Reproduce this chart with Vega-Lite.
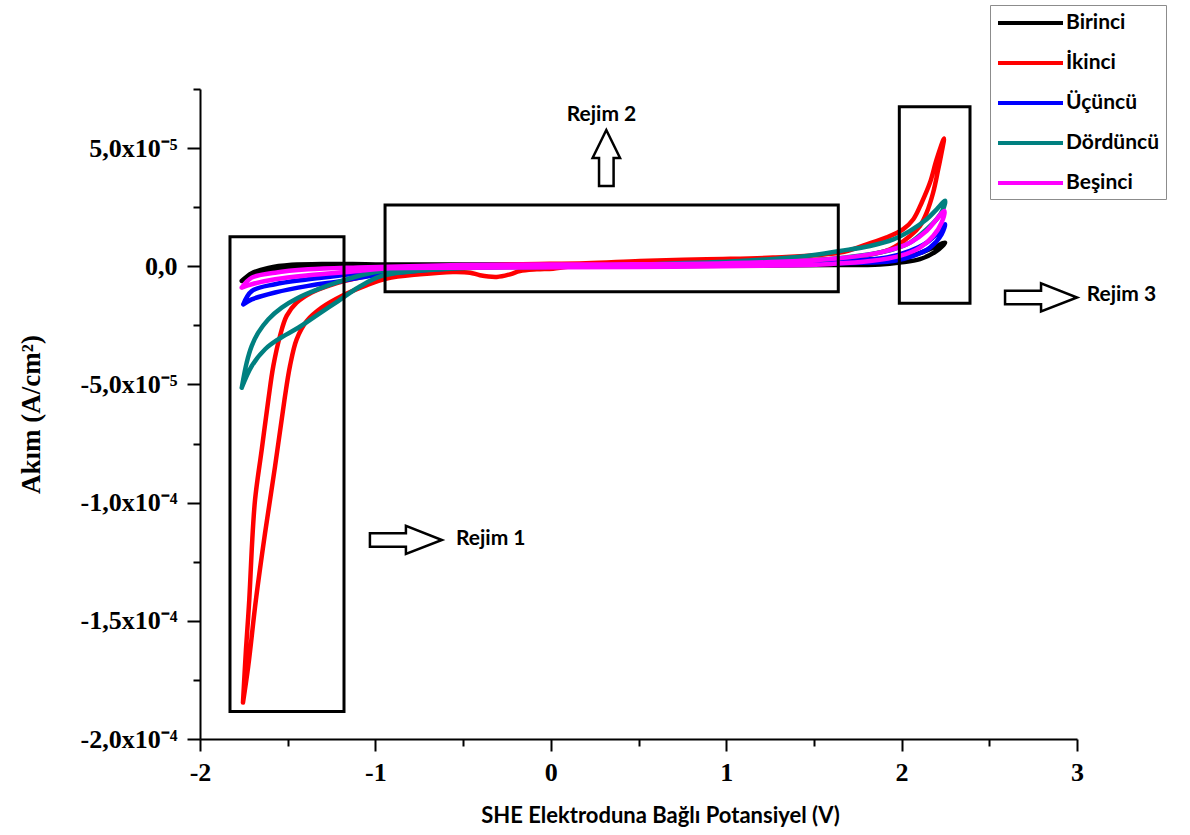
{
  "$schema": "https://vega.github.io/schema/vega-lite/v6.json",
  "width": 877,
  "height": 650,
  "autosize": "none",
  "padding": {"left": 200, "top": 89, "right": 113, "bottom": 96},
  "background": "white",
  "config": {"view": {"stroke": null}},
  "datasets": {
    "curves": [
      {"s":"Birinci","i":1,"x":-1.762,"y":-6.2e-6},
      {"s":"Birinci","i":2,"x":-1.705,"y":-4.1e-6},
      {"s":"Birinci","i":3,"x":-1.61,"y":-2.0e-6},
      {"s":"Birinci","i":4,"x":-1.477,"y":-5e-7},
      {"s":"Birinci","i":5,"x":-1.287,"y":1e-7},
      {"s":"Birinci","i":6,"x":-1.0,"y":0},
      {"s":"Birinci","i":7,"x":0,"y":0},
      {"s":"Birinci","i":8,"x":1.0,"y":2e-7},
      {"s":"Birinci","i":9,"x":1.6,"y":5e-7},
      {"s":"Birinci","i":10,"x":1.877,"y":8e-7},
      {"s":"Birinci","i":11,"x":1.99,"y":1.6e-6},
      {"s":"Birinci","i":12,"x":2.105,"y":3.0e-6},
      {"s":"Birinci","i":13,"x":2.2,"y":6.5e-6},
      {"s":"Birinci","i":14,"x":2.248,"y":1.0e-5},
      {"s":"Birinci","i":15,"x":2.18,"y":7.9e-6},
      {"s":"Birinci","i":16,"x":2.086,"y":5.1e-6},
      {"s":"Birinci","i":17,"x":1.953,"y":3.0e-6},
      {"s":"Birinci","i":18,"x":1.763,"y":1.6e-6},
      {"s":"Birinci","i":19,"x":1.4,"y":1.0e-6},
      {"s":"Birinci","i":20,"x":0.5,"y":5e-7},
      {"s":"Birinci","i":21,"x":-0.5,"y":8e-7},
      {"s":"Birinci","i":22,"x":-1.0,"y":8e-7},
      {"s":"Birinci","i":23,"x":-1.287,"y":1.0e-6},
      {"s":"Birinci","i":24,"x":-1.477,"y":6e-7},
      {"s":"Birinci","i":25,"x":-1.61,"y":-7e-7},
      {"s":"Birinci","i":26,"x":-1.705,"y":-2.9e-6},
      {"s":"Birinci","i":27,"x":-1.762,"y":-6.2e-6},

      {"s":"İkinci","i":1,"x":-1.755,"y":-1.846e-4},
      {"s":"İkinci","i":2,"x":-1.738,"y":-1.622e-4},
      {"s":"İkinci","i":3,"x":-1.719,"y":-1.41e-4},
      {"s":"İkinci","i":4,"x":-1.705,"y":-1.198e-4},
      {"s":"İkinci","i":5,"x":-1.686,"y":-9.87e-5},
      {"s":"İkinci","i":6,"x":-1.648,"y":-7.75e-5},
      {"s":"İkinci","i":7,"x":-1.61,"y":-5.63e-5},
      {"s":"İkinci","i":8,"x":-1.582,"y":-4.22e-5},
      {"s":"İkinci","i":9,"x":-1.544,"y":-2.95e-5},
      {"s":"İkinci","i":10,"x":-1.506,"y":-2.1e-5},
      {"s":"İkinci","i":11,"x":-1.449,"y":-1.54e-5},
      {"s":"İkinci","i":12,"x":-1.363,"y":-1.11e-5},
      {"s":"İkinci","i":13,"x":-1.268,"y":-8.3e-6},
      {"s":"İkinci","i":14,"x":-1.173,"y":-6.2e-6},
      {"s":"İkinci","i":15,"x":-1.0,"y":-3.5e-6},
      {"s":"İkinci","i":16,"x":-0.8,"y":-1.5e-6},
      {"s":"İkinci","i":17,"x":-0.5,"y":0},
      {"s":"İkinci","i":18,"x":-0.2,"y":8e-7},
      {"s":"İkinci","i":19,"x":0.2,"y":1.3e-6},
      {"s":"İkinci","i":20,"x":0.508,"y":2.2e-6},
      {"s":"İkinci","i":21,"x":0.889,"y":3.0e-6},
      {"s":"İkinci","i":22,"x":1.267,"y":3.7e-6},
      {"s":"İkinci","i":23,"x":1.649,"y":5.8e-6},
      {"s":"İkinci","i":24,"x":1.801,"y":9.3e-6},
      {"s":"İkinci","i":25,"x":1.915,"y":1.22e-5},
      {"s":"İkinci","i":26,"x":2.01,"y":1.57e-5},
      {"s":"İkinci","i":27,"x":2.067,"y":1.99e-5},
      {"s":"İkinci","i":28,"x":2.115,"y":2.7e-5},
      {"s":"İkinci","i":29,"x":2.162,"y":3.54e-5},
      {"s":"İkinci","i":30,"x":2.2,"y":4.53e-5},
      {"s":"İkinci","i":31,"x":2.242,"y":5.41e-5},
      {"s":"İkinci","i":32,"x":2.228,"y":4.81e-5},
      {"s":"İkinci","i":33,"x":2.209,"y":4.11e-5},
      {"s":"İkinci","i":34,"x":2.18,"y":3.12e-5},
      {"s":"İkinci","i":35,"x":2.143,"y":2.27e-5},
      {"s":"İkinci","i":36,"x":2.105,"y":1.71e-5},
      {"s":"İkinci","i":37,"x":2.048,"y":1.28e-5},
      {"s":"İkinci","i":38,"x":1.934,"y":7.2e-6},
      {"s":"İkinci","i":39,"x":1.75,"y":4.0e-6},
      {"s":"İkinci","i":40,"x":1.4,"y":2.2e-6},
      {"s":"İkinci","i":41,"x":1.0,"y":1.2e-6},
      {"s":"İkinci","i":42,"x":0.5,"y":4e-7},
      {"s":"İkinci","i":43,"x":0.11,"y":-1e-7},
      {"s":"İkinci","i":44,"x":0.013,"y":-1.0e-6},
      {"s":"İkinci","i":45,"x":-0.08,"y":-1.3e-6},
      {"s":"İkinci","i":46,"x":-0.176,"y":-2.0e-6},
      {"s":"İkinci","i":47,"x":-0.233,"y":-3.4e-6},
      {"s":"İkinci","i":48,"x":-0.308,"y":-4.5e-6},
      {"s":"İkinci","i":49,"x":-0.404,"y":-3.8e-6},
      {"s":"İkinci","i":50,"x":-0.46,"y":-2.7e-6},
      {"s":"İkinci","i":51,"x":-0.558,"y":-2.4e-6},
      {"s":"İkinci","i":52,"x":-0.746,"y":-3.4e-6},
      {"s":"İkinci","i":53,"x":-0.936,"y":-5.2e-6},
      {"s":"İkinci","i":54,"x":-1.059,"y":-8.3e-6},
      {"s":"İkinci","i":55,"x":-1.192,"y":-1.26e-5},
      {"s":"İkinci","i":56,"x":-1.306,"y":-1.75e-5},
      {"s":"İkinci","i":57,"x":-1.392,"y":-2.32e-5},
      {"s":"İkinci","i":58,"x":-1.449,"y":-3.09e-5},
      {"s":"İkinci","i":59,"x":-1.487,"y":-4.22e-5},
      {"s":"İkinci","i":60,"x":-1.518,"y":-5.63e-5},
      {"s":"İkinci","i":61,"x":-1.572,"y":-8.46e-5},
      {"s":"İkinci","i":62,"x":-1.629,"y":-1.128e-4},
      {"s":"İkinci","i":63,"x":-1.681,"y":-1.41e-4},
      {"s":"İkinci","i":64,"x":-1.725,"y":-1.692e-4},
      {"s":"İkinci","i":65,"x":-1.755,"y":-1.846e-4},

      {"s":"Üçüncü","i":1,"x":-1.753,"y":-1.61e-5},
      {"s":"Üçüncü","i":2,"x":-1.705,"y":-1.05e-5},
      {"s":"Üçüncü","i":3,"x":-1.572,"y":-7.6e-6},
      {"s":"Üçüncü","i":4,"x":-1.383,"y":-5.5e-6},
      {"s":"Üçüncü","i":5,"x":-1.192,"y":-3.8e-6},
      {"s":"Üçüncü","i":6,"x":-0.964,"y":-2.0e-6},
      {"s":"Üçüncü","i":7,"x":-0.6,"y":-5e-7},
      {"s":"Üçüncü","i":8,"x":0,"y":0},
      {"s":"Üçüncü","i":9,"x":1.0,"y":5e-7},
      {"s":"Üçüncü","i":10,"x":1.6,"y":1.3e-6},
      {"s":"Üçüncü","i":11,"x":1.953,"y":2.2e-6},
      {"s":"Üçüncü","i":12,"x":2.067,"y":4.4e-6},
      {"s":"Üçüncü","i":13,"x":2.162,"y":7.9e-6},
      {"s":"Üçüncü","i":14,"x":2.228,"y":1.35e-5},
      {"s":"Üçüncü","i":15,"x":2.248,"y":1.78e-5},
      {"s":"Üçüncü","i":16,"x":2.209,"y":1.43e-5},
      {"s":"Üçüncü","i":17,"x":2.143,"y":1.0e-5},
      {"s":"Üçüncü","i":18,"x":2.048,"y":6.5e-6},
      {"s":"Üçüncü","i":19,"x":1.915,"y":3.7e-6},
      {"s":"Üçüncü","i":20,"x":1.6,"y":2.0e-6},
      {"s":"Üçüncü","i":21,"x":1.0,"y":8e-7},
      {"s":"Üçüncü","i":22,"x":0,"y":2e-7},
      {"s":"Üçüncü","i":23,"x":-0.6,"y":-1.0e-6},
      {"s":"Üçüncü","i":24,"x":-0.964,"y":-3.4e-6},
      {"s":"Üçüncü","i":25,"x":-1.192,"y":-6.2e-6},
      {"s":"Üçüncü","i":26,"x":-1.383,"y":-8.3e-6},
      {"s":"Üçüncü","i":27,"x":-1.572,"y":-1.11e-5},
      {"s":"Üçüncü","i":28,"x":-1.705,"y":-1.4e-5},
      {"s":"Üçüncü","i":29,"x":-1.753,"y":-1.61e-5},

      {"s":"Dördüncü","i":1,"x":-1.762,"y":-5.14e-5},
      {"s":"Dördüncü","i":2,"x":-1.734,"y":-4.08e-5},
      {"s":"Dördüncü","i":3,"x":-1.705,"y":-3.37e-5},
      {"s":"Dördüncü","i":4,"x":-1.668,"y":-2.81e-5},
      {"s":"Dördüncü","i":5,"x":-1.61,"y":-2.24e-5},
      {"s":"Dördüncü","i":6,"x":-1.534,"y":-1.75e-5},
      {"s":"Dördüncü","i":7,"x":-1.44,"y":-1.33e-5},
      {"s":"Dördüncü","i":8,"x":-1.326,"y":-9.7e-6},
      {"s":"Dördüncü","i":9,"x":-1.192,"y":-6.2e-6},
      {"s":"Dördüncü","i":10,"x":-1.059,"y":-3.4e-6},
      {"s":"Dördüncü","i":11,"x":-0.964,"y":-2.0e-6},
      {"s":"Dördüncü","i":12,"x":-0.7,"y":-5e-7},
      {"s":"Dördüncü","i":13,"x":0,"y":0},
      {"s":"Dördüncü","i":14,"x":0.508,"y":8e-7},
      {"s":"Dördüncü","i":15,"x":1.079,"y":2.2e-6},
      {"s":"Dördüncü","i":16,"x":1.459,"y":4.4e-6},
      {"s":"Dördüncü","i":17,"x":1.649,"y":6.5e-6},
      {"s":"Dördüncü","i":18,"x":1.82,"y":8.6e-6},
      {"s":"Dördüncü","i":19,"x":1.953,"y":1.14e-5},
      {"s":"Dördüncü","i":20,"x":2.048,"y":1.5e-5},
      {"s":"Dördüncü","i":21,"x":2.143,"y":1.99e-5},
      {"s":"Dördüncü","i":22,"x":2.2,"y":2.41e-5},
      {"s":"Dördüncü","i":23,"x":2.248,"y":2.77e-5},
      {"s":"Dördüncü","i":24,"x":2.236,"y":2.41e-5},
      {"s":"Dördüncü","i":25,"x":2.2,"y":1.99e-5},
      {"s":"Dördüncü","i":26,"x":2.143,"y":1.57e-5},
      {"s":"Dördüncü","i":27,"x":2.048,"y":1.0e-5},
      {"s":"Dördüncü","i":28,"x":1.953,"y":7.2e-6},
      {"s":"Dördüncü","i":29,"x":1.82,"y":5.1e-6},
      {"s":"Dördüncü","i":30,"x":1.5,"y":2.5e-6},
      {"s":"Dördüncü","i":31,"x":1.0,"y":1.0e-6},
      {"s":"Dördüncü","i":32,"x":0,"y":-2e-7},
      {"s":"Dördüncü","i":33,"x":-0.63,"y":-1.3e-6},
      {"s":"Dördüncü","i":34,"x":-0.964,"y":-4.1e-6},
      {"s":"Dördüncü","i":35,"x":-1.098,"y":-9.0e-6},
      {"s":"Dördüncü","i":36,"x":-1.212,"y":-1.47e-5},
      {"s":"Dördüncü","i":37,"x":-1.326,"y":-2.03e-5},
      {"s":"Dördüncü","i":38,"x":-1.44,"y":-2.6e-5},
      {"s":"Dördüncü","i":39,"x":-1.554,"y":-3.09e-5},
      {"s":"Dördüncü","i":40,"x":-1.629,"y":-3.51e-5},
      {"s":"Dördüncü","i":41,"x":-1.705,"y":-4.22e-5},
      {"s":"Dördüncü","i":42,"x":-1.762,"y":-5.14e-5},

      {"s":"Beşinci","i":1,"x":-1.762,"y":-9.0e-6},
      {"s":"Beşinci","i":2,"x":-1.705,"y":-7.6e-6},
      {"s":"Beşinci","i":3,"x":-1.572,"y":-5.5e-6},
      {"s":"Beşinci","i":4,"x":-1.383,"y":-3.8e-6},
      {"s":"Beşinci","i":5,"x":-1.098,"y":-2.0e-6},
      {"s":"Beşinci","i":6,"x":-0.964,"y":-1.0e-6},
      {"s":"Beşinci","i":7,"x":-0.5,"y":-6e-7},
      {"s":"Beşinci","i":8,"x":0.5,"y":-3e-7},
      {"s":"Beşinci","i":9,"x":1.3,"y":3e-7},
      {"s":"Beşinci","i":10,"x":1.6,"y":1.0e-6},
      {"s":"Beşinci","i":11,"x":1.82,"y":2.2e-6},
      {"s":"Beşinci","i":12,"x":1.99,"y":4.4e-6},
      {"s":"Beşinci","i":13,"x":2.105,"y":7.9e-6},
      {"s":"Beşinci","i":14,"x":2.18,"y":1.28e-5},
      {"s":"Beşinci","i":15,"x":2.228,"y":1.85e-5},
      {"s":"Beşinci","i":16,"x":2.244,"y":2.34e-5},
      {"s":"Beşinci","i":17,"x":2.2,"y":1.99e-5},
      {"s":"Beşinci","i":18,"x":2.143,"y":1.5e-5},
      {"s":"Beşinci","i":19,"x":2.048,"y":1.0e-5},
      {"s":"Beşinci","i":20,"x":1.915,"y":6.5e-6},
      {"s":"Beşinci","i":21,"x":1.763,"y":4.4e-6},
      {"s":"Beşinci","i":22,"x":1.5,"y":2.5e-6},
      {"s":"Beşinci","i":23,"x":1.0,"y":1.3e-6},
      {"s":"Beşinci","i":24,"x":0.3,"y":8e-7},
      {"s":"Beşinci","i":25,"x":-0.5,"y":5e-7},
      {"s":"Beşinci","i":26,"x":-1.098,"y":-5e-7},
      {"s":"Beşinci","i":27,"x":-1.383,"y":-1.3e-6},
      {"s":"Beşinci","i":28,"x":-1.572,"y":-2.7e-6},
      {"s":"Beşinci","i":29,"x":-1.705,"y":-4.8e-6},
      {"s":"Beşinci","i":30,"x":-1.762,"y":-9.0e-6}
    ],
    "boxes": [
      {"x1":-1.829,"x2":-1.179,"y1":1.252e-5,"y2":-1.884e-4},
      {"x1":-0.945,"x2":1.639,"y1":2.593e-5,"y2":-1.074e-5},
      {"x1":1.987,"x2":2.39,"y1":6.75e-5,"y2":-1.565e-5}
    ],
    "arrowsRight": [
      {"x":-0.826,"y":-1.158e-4},
      {"x":2.795,"y":-1.32e-5}
    ],
    "arrowUp": [
      {"x":0.3165,"y":4.58e-5}
    ],
    "labels": [
      {"t":"Rejim 1","x":-0.5405,"y":-1.152e-4},
      {"t":"Rejim 2","x":0.0907,"y":6.4e-5},
      {"t":"Rejim 3","x":3.055,"y":-1.2e-5}
    ]
  },
  "layer": [
    {
      "data": {"name": "curves"},
      "mark": {"type": "line", "strokeWidth": 4.5, "strokeJoin": "round", "strokeCap": "round", "interpolate": "catmull-rom"},
      "encoding": {
        "x": {
          "field": "x", "type": "quantitative",
          "scale": {"domain": [-2, 3], "nice": false, "zero": false},
          "axis": {
            "values": [-2, -1.5, -1, -0.5, 0, 0.5, 1, 1.5, 2, 2.5, 3],
            "labelExpr": "datum.value % 1 == 0 ? (datum.value < 0 ? '-' + abs(datum.value) : '' + datum.value) : ''",
            "grid": false,
            "domainColor": "black", "domainWidth": 2,
            "tickColor": "black", "tickWidth": 2,
            "tickSize": {"condition": {"test": "datum.value % 1 != 0", "value": 7}, "value": 12},
            "labelFont": "Liberation Serif", "labelFontWeight": "bold", "labelFontSize": 26,
            "labelColor": "black", "labelPadding": 8, "labelFlush": false, "labelOverlap": false, "labelBound": false,
            "title": "SHE Elektroduna Bağlı Potansiyel (V)",
            "titleFont": "Lato", "titleFontWeight": "bold", "titleFontSize": 22, "titleColor": "black",
            "titleX": 460, "titleY": 76, "titleAlign": "center", "titleBaseline": "middle", "titleAnchor": null
          }
        },
        "y": {
          "field": "y", "type": "quantitative",
          "scale": {"domain": [-0.0002, 0.000075], "nice": false, "zero": false},
          "axis": {
            "values": [-0.0002, -0.000175, -0.00015, -0.000125, -0.0001, -0.000075, -0.00005, -0.000025, 0, 0.000025, 0.00005, 0.000075],
            "labelExpr": "round(datum.value/2.5e-5) == 2 ? '5,0x10⁻⁵' : round(datum.value/2.5e-5) == 0 ? '0,0' : round(datum.value/2.5e-5) == -2 ? '-5,0x10⁻⁵' : round(datum.value/2.5e-5) == -4 ? '-1,0x10⁻⁴' : round(datum.value/2.5e-5) == -6 ? '-1,5x10⁻⁴' : round(datum.value/2.5e-5) == -8 ? '-2,0x10⁻⁴' : ''",
            "grid": false,
            "domainColor": "black", "domainWidth": 2,
            "tickColor": "black", "tickWidth": 2,
            "tickSize": {"condition": {"test": "round(datum.value/2.5e-5) % 2 != 0", "value": 7}, "value": 13},
            "labelFont": "Liberation Serif", "labelFontWeight": "bold", "labelFontSize": 26,
            "labelColor": "black", "labelPadding": 10, "labelFlush": false, "labelOverlap": false, "labelBound": false,
            "title": "Akım (A/cm²)",
            "titleFont": "Liberation Serif", "titleFontWeight": "bold", "titleFontSize": 27, "titleColor": "black",
            "titleX": -169, "titleY": 325, "titleAngle": -90, "titleAlign": "center", "titleBaseline": "middle", "titleAnchor": null
          }
        },
        "order": {"field": "i", "type": "quantitative"},
        "color": {
          "field": "s", "type": "nominal",
          "scale": {
            "domain": ["Birinci", "İkinci", "Üçüncü", "Dördüncü", "Beşinci"],
            "range": ["#000000", "#ff0000", "#0000ff", "#008080", "#ff00ff"]
          },
          "legend": {
            "title": null,
            "orient": "none",
            "legendX": 790,
            "legendY": -84,
            "padding": 6,
            "strokeColor": "#8c8c8c",
            "fillColor": "white",
            "symbolType": "M-1,0L5.5,0",
            "symbolSize": 400,
            "symbolStrokeWidth": 4,
            "symbolOffset": 0,
            "labelOffset": 46,
            "labelFont": "Lato", "labelFontWeight": "bold", "labelFontSize": 21, "labelColor": "black",
            "rowPadding": 18
          }
        }
      }
    },
    {
      "data": {"name": "boxes"},
      "mark": {"type": "rect", "filled": false, "stroke": "black", "strokeWidth": 3},
      "encoding": {
        "x": {"field": "x1", "type": "quantitative"},
        "x2": {"field": "x2"},
        "y": {"field": "y1", "type": "quantitative"},
        "y2": {"field": "y2"}
      }
    },
    {
      "data": {"name": "arrowsRight"},
      "mark": {"type": "point", "shape": "M-1,-0.19L0,-0.19L0,-0.39L1,0L0,0.39L0,0.19L-1,0.19Z", "size": 5184, "filled": false, "stroke": "black", "strokeWidth": 2.5, "opacity": 1},
      "encoding": {
        "x": {"field": "x", "type": "quantitative"},
        "y": {"field": "y", "type": "quantitative"}
      }
    },
    {
      "data": {"name": "arrowUp"},
      "mark": {"type": "point", "shape": "M-0.26,1L-0.26,0L-0.49,0L0,-1L0.49,0L0.26,0L0.26,1Z", "size": 3136, "filled": false, "stroke": "black", "strokeWidth": 2.5, "opacity": 1},
      "encoding": {
        "x": {"field": "x", "type": "quantitative"},
        "y": {"field": "y", "type": "quantitative"}
      }
    },
    {
      "data": {"name": "labels"},
      "mark": {"type": "text", "align": "left", "baseline": "middle", "font": "Lato", "fontWeight": "bold", "fontSize": 21, "color": "black"},
      "encoding": {
        "x": {"field": "x", "type": "quantitative"},
        "y": {"field": "y", "type": "quantitative"},
        "text": {"field": "t"}
      }
    }
  ]
}
